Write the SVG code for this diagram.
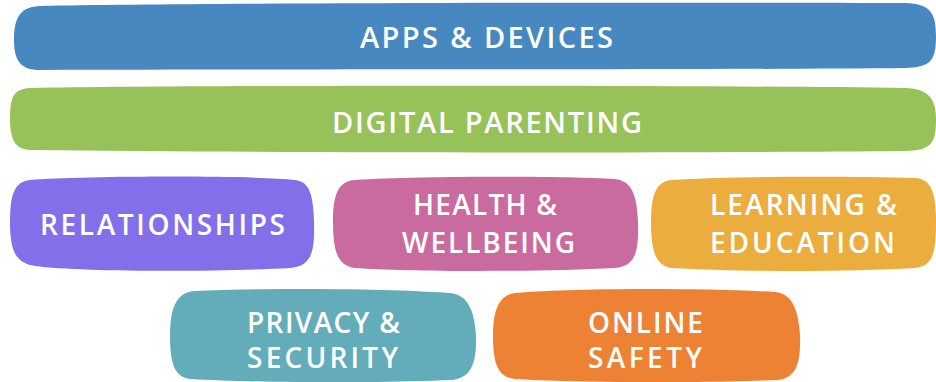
<svg xmlns="http://www.w3.org/2000/svg" width="936" height="382" viewBox="0 0 936 382">
<style>
  .lbl { font-family: "Open Sans", "Liberation Sans", sans-serif; font-weight: 600; font-size: 28px; fill: #ffffff; }
  .big { font-size: 29px; }
</style>
<rect width="936" height="382" fill="#ffffff"/>
<g id="apps-devices">
  <path fill="#4788C0" d="M40,6 C200,3 700,2 905,3 C930,4 936,12 936,36 C936,62 930,67 905,68 C700,70 300,69 40,70 C20,70 14,60 14,40 C14,15 22,7 40,6 Z"/>
  <text class="lbl big" x="360" y="48" textLength="253" lengthAdjust="spacing">APPS &amp; DEVICES</text>
</g>
<g id="digital-parenting">
  <path fill="#97C159" d="M30,88 C200,85 700,85 905,88 C930,89 936,100 936,120 C936,145 930,150 905,151 C700,153 300,153 30,150 C15,149 10,140 10,118 C10,95 15,89 30,88 Z"/>
  <text class="lbl big" x="332" y="133" textLength="310" lengthAdjust="spacing">DIGITAL PARENTING</text>
</g>
<g id="relationships">
  <path fill="#846FEB" d="M30,180 C80,176 250,175 295,180 C310,182 313,195 314,222 C315,255 310,266 290,268 C220,272 80,272 35,266 C15,263 10,250 10,222 C10,195 14,182 30,180 Z"/>
  <text class="lbl" x="40" y="235" textLength="245" lengthAdjust="spacing">RELATIONSHIPS</text>
</g>
<g id="health-wellbeing">
  <path fill="#C96B9E" d="M355,180 C420,176 560,176 615,179 C632,181 637,195 638,222 C639,255 634,266 615,268 C540,272 410,272 355,268 C338,266 333,252 333,222 C333,195 338,181 355,180 Z"/>
  <text class="lbl" x="413" y="215" textLength="144" lengthAdjust="spacing">HEALTH &amp;</text>
  <text class="lbl" x="402" y="253" textLength="173" lengthAdjust="spacing">WELLBEING</text>
</g>
<g id="learning-education">
  <path fill="#EBAE3E" d="M672,180 C740,176 850,176 915,178 C930,179 936,190 936,222 C936,255 932,266 915,268 C850,272 740,272 672,268 C656,266 651,252 651,222 C651,195 656,181 672,180 Z"/>
  <text class="lbl" x="710" y="215" textLength="187" lengthAdjust="spacing">LEARNING &amp;</text>
  <text class="lbl" x="710" y="253" textLength="185" lengthAdjust="spacing">EDUCATION</text>
</g>
<g id="privacy-security">
  <path fill="#63ACB9" d="M195,291 C260,288 380,288 450,293 C468,295 474,310 476,335 C477,365 470,378 452,380 C380,383 260,383 190,379 C175,377 170,365 170,335 C170,305 178,292 195,291 Z"/>
  <text class="lbl" x="247" y="333" textLength="153" lengthAdjust="spacing">PRIVACY &amp;</text>
  <text class="lbl" x="247" y="368" textLength="151" lengthAdjust="spacing">SECURITY</text>
</g>
<g id="online-safety">
  <path fill="#EE8234" d="M515,293 C580,288 700,288 775,292 C793,294 798,310 800,335 C801,365 795,378 778,380 C700,383 580,383 515,379 C498,377 493,365 493,335 C493,308 500,295 515,293 Z"/>
  <text class="lbl" x="588" y="333" textLength="115" lengthAdjust="spacing">ONLINE</text>
  <text class="lbl" x="588" y="368" textLength="114" lengthAdjust="spacing">SAFETY</text>
</g>
</svg>
